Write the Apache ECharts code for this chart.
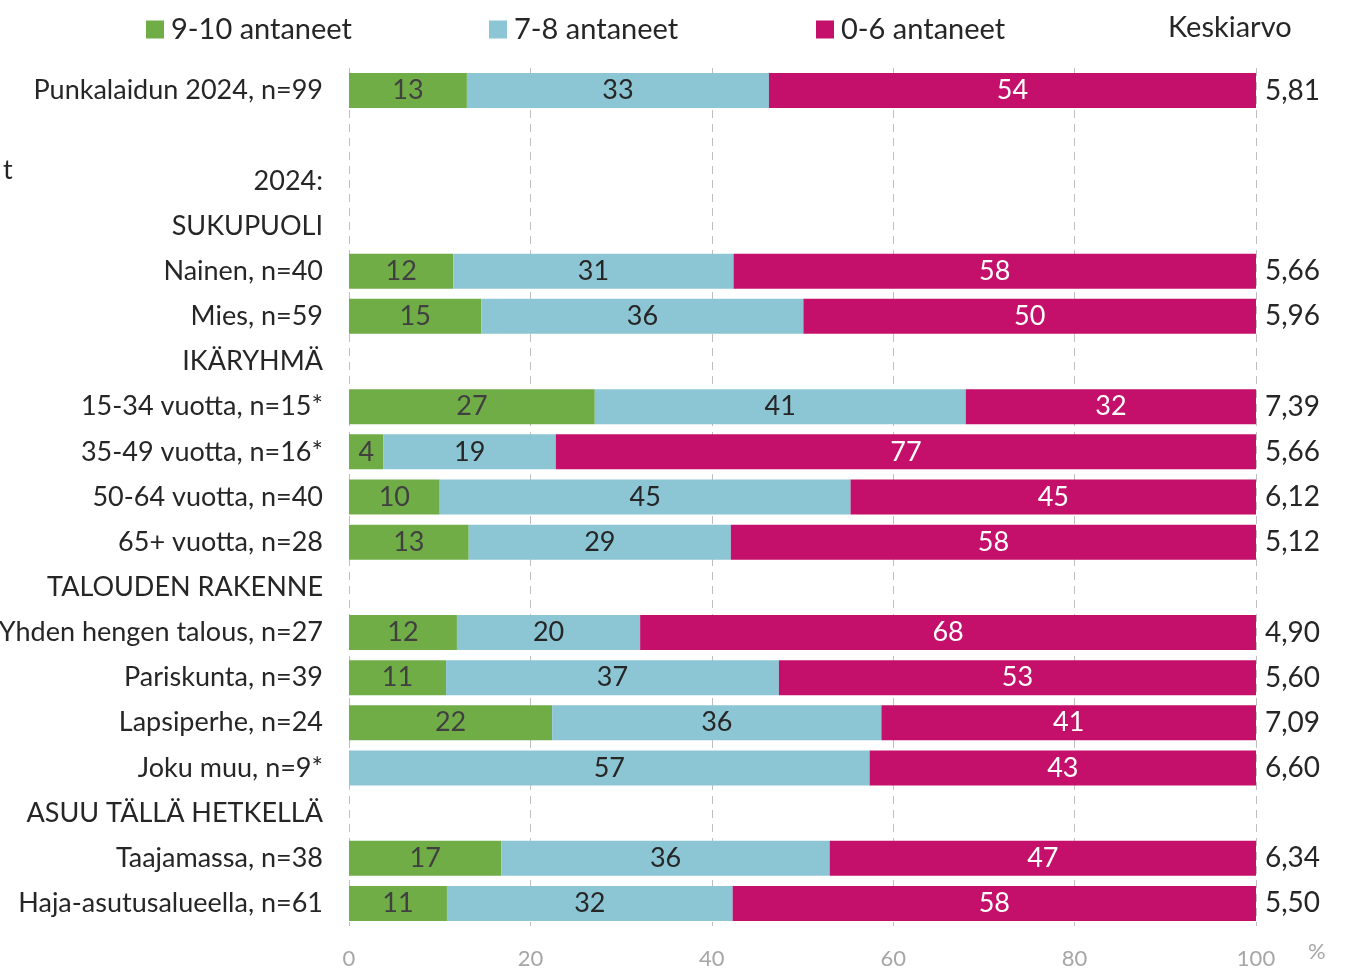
<!DOCTYPE html>
<html>
<head>
<meta charset="utf-8">
<script src="https://cdn.jsdelivr.net/npm/echarts@6/dist/echarts.min.js"></script>
<style>
  html, body { margin: 0; padding: 0; background: #fff; }
  #chart { width: 1345px; height: 973px; }
</style>
</head>
<body>
<div id="chart"></div>
<script>
// rivit ylhäältä alas
const categories = [
    'Punkalaidun 2024, n=99', '', '2024:', 'SUKUPUOLI',
    'Nainen, n=40', 'Mies, n=59', 'IKÄRYHMÄ',
    '15-34 vuotta, n=15*', '35-49 vuotta, n=16*', '50-64 vuotta, n=40', '65+ vuotta, n=28',
    'TALOUDEN RAKENNE',
    'Yhden hengen talous, n=27', 'Pariskunta, n=39', 'Lapsiperhe, n=24', 'Joku muu, n=9*',
    'ASUU TÄLLÄ HETKELLÄ',
    'Taajamassa, n=38', 'Haja-asutusalueella, n=61'
];
const high = [13.0, null, null, null, 11.5, 14.6, null, 27.1, 3.8, 10.0, 13.2, null, 11.9, 10.7, 22.4, 0, null, 16.8, 10.8];
const mid  = [33.3, null, null, null, 30.9, 35.5, null, 40.9, 19.0, 45.3, 28.9, null, 20.2, 36.7, 36.3, 57.4, null, 36.2, 31.5];
const low  = [53.7, null, null, null, 57.6, 49.9, null, 32.0, 77.2, 44.7, 57.9, null, 67.9, 52.6, 41.3, 42.6, null, 47.0, 57.7];
const means = ['5,81', '', '', '', '5,66', '5,96', '', '7,39', '5,66', '6,12', '5,12', '', '4,90', '5,60', '7,09', '6,60', '', '6,34', '5,50'];
const seriesNames = ['9-10 antaneet', '7-8 antaneet', '0-6 antaneet'];
const xTicks = [0, 20, 40, 60, 80, 100];

const font = 'Lato, "Open Sans", sans-serif';
const colors = ['#70AD47', '#8CC5D4', '#C4106B'];
const labelColors = ['#404040', '#262626', '#ffffff'];

const chart = echarts.init(document.getElementById('chart'));

function barSeries(name, data, i) {
    return {
        name: name,
        type: 'bar',
        stack: 'all',
        data: data,
        barWidth: 35,
        itemStyle: {color: colors[i]},
        label: {
            show: true,
            position: 'inside',
            color: labelColors[i],
            fontFamily: font,
            fontSize: 27,
            formatter: p => (p.value ? Math.round(p.value) : '')
        }
    };
}

function legendAt(name, left) {
    return {
        data: [name],
        left: left,
        top: 10,
        itemWidth: 18,
        itemHeight: 18,
        icon: 'rect',
        itemGap: 0,
        textStyle: {fontFamily: font, fontSize: 29, color: '#262626', padding: [0, 0, 0, 2]}
    };
}

const option = {
    animation: false,
    textStyle: {fontFamily: font},
    legend: [
        legendAt(seriesNames[0], 141),
        legendAt(seriesNames[1], 484),
        legendAt(seriesNames[2], 811)
    ],
    grid: {left: 349, right: 89, top: 68, bottom: 47, containLabel: false, outerBoundsMode: 'none'},
    xAxis: {
        type: 'value',
        min: xTicks[0],
        max: xTicks[xTicks.length - 1],
        interval: 20,
        axisLine: {show: false},
        axisTick: {show: false},
        splitLine: {lineStyle: {color: '#BFBFBF', type: [8, 6], width: 1}},
        axisLabel: {color: '#A6A6A6', fontSize: 22, fontFamily: font, margin: 22}
    },
    yAxis: [{
        type: 'category',
        data: categories,
        inverse: true,
        axisLine: {show: false},
        axisTick: {show: false},
        axisLabel: {color: '#262626', fontSize: 27, fontFamily: font, margin: 26}
    }, {
        type: 'category',
        data: means,
        inverse: true,
        position: 'right',
        axisLine: {show: false},
        axisTick: {show: false},
        axisLabel: {color: '#262626', fontSize: 28, fontFamily: font, margin: 9}
    }],
    graphic: [
        {type: 'text', left: 1168, top: 13, style: {text: 'Keskiarvo', fontSize: 29, fontFamily: font, fill: '#262626'}},
        {type: 'text', left: 3, top: 157, style: {text: 't', fontSize: 27, fontFamily: font, fill: '#262626'}},
        {type: 'text', left: 1308, top: 941, style: {text: '%', fontSize: 22, fontFamily: font, fill: '#A6A6A6'}}
    ],
    series: [
        barSeries(seriesNames[0], high, 0),
        barSeries(seriesNames[1], mid, 1),
        barSeries(seriesNames[2], low, 2)
    ]
};

chart.setOption(option);
</script>
</body>
</html>
